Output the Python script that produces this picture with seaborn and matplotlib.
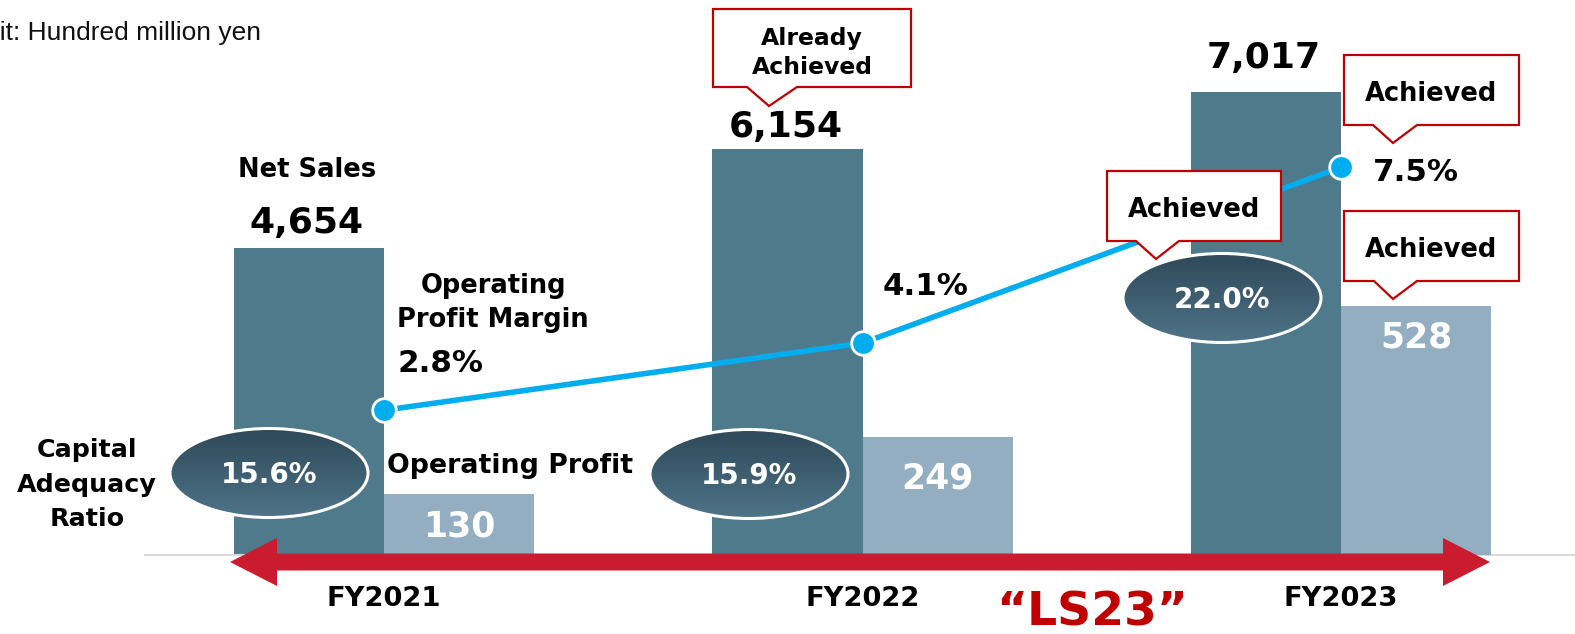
import numpy as np
import pandas as pd
import matplotlib.pyplot as plt
import seaborn as sns
from matplotlib.patches import Ellipse, Polygon

# data (unit: hundred million yen)
years = ["FY2021", "FY2022", "FY2023"]
net_sales = [4654, 6154, 7017]
op_profit = [130, 249, 528]
op_margin = [2.8, 4.1, 7.5]
cap_ratio = [15.6, 15.9, 22.0]
series_order = ["Net Sales", "Operating Profit"]

sns.set_theme(style="white")
plt.rcParams['font.family'] = ['DejaVu Sans']

dark = "#4F7A8B"
light = "#93AEC0"
cyan = "#00AEEF"
box_red = "#C00000"
arrow_red = "#CB1B2F"

W, H = 1575, 634
fig = plt.figure(figsize=(W / 100, H / 100), dpi=100)

# main axes: bottom spine = gray baseline at y=555px
base_px = 555
left_px = 145
ax = fig.add_axes([left_px / W, (H - base_px) / H, (W - left_px) / W, base_px / H])

df_sales = pd.DataFrame({"year": years, "value": net_sales, "series": "Net Sales"})
df_op = pd.DataFrame({"year": years, "value": op_profit, "series": "Operating Profit"})

bar_w = 0.627
sns.barplot(data=df_sales, x="year", y="value", hue="series", hue_order=series_order,
            palette=[dark, light], width=bar_w, saturation=1, legend=False,
            errorbar=None, dodge=True, linewidth=0, ax=ax)

ax2 = ax.twinx()
sns.barplot(data=df_op, x="year", y="value", hue="series", hue_order=series_order,
            palette=[dark, light], width=bar_w, saturation=1, legend=False,
            errorbar=None, dodge=True, linewidth=0, ax=ax2)

ax3 = ax.twinx()
sns.pointplot(x=years, y=op_margin, color=cyan, markers="o", markersize=17,
              linewidth=4, markeredgecolor="white", markeredgewidth=2,
              errorbar=None, ax=ax3)

xl = ((left_px - 384) / 478.5, (W - 384) / 478.5)
for a in (ax, ax2, ax3):
    a.set_xlim(*xl)
    a.set_ylabel("")
    a.set_xlabel("")
    a.set_yticks([])
    for s in a.spines.values():
        s.set_visible(False)
ax.set_ylim(0, base_px / 0.066)
ax2.set_ylim(0, base_px / 0.4725)
ax3.set_ylim(0, base_px / 51.7)
ax.spines["bottom"].set_visible(True)
ax.spines["bottom"].set_color("#D9D9D9")
ax.spines["bottom"].set_linewidth(1.5)
ax2.tick_params(axis="x", labelbottom=False, length=0)
ax3.tick_params(axis="x", labelbottom=False, length=0)
ax.tick_params(axis="x", length=0, pad=22)
for t in ax.get_xticklabels():
    t.set_fontsize(19.7)
    t.set_fontweight("bold")
    t.set_color("black")

# value labels anchored to bars / points
half = bar_w / 4
sales_dy = [15, 12, 24]
for i, v in enumerate(net_sales):
    ax.annotate(f"{v:,}", (i - half, v), xytext=(-2, sales_dy[i]), textcoords="offset pixels",
                ha="center", va="baseline", fontsize=26, fontweight="bold", color="black")
op_dy = [-43, -51, -42]
for i, v in enumerate(op_profit):
    ax2.annotate(f"{v}", (i + half, v), xytext=(0, op_dy[i]), textcoords="offset pixels",
                 ha="center", va="baseline", fontsize=25, fontweight="bold", color="white")
margin_off = [(14, 38, "left"), (63, 48, "center"), (32, -14, "left")]
for i, v in enumerate(op_margin):
    dx, dy, ha = margin_off[i]
    ax3.annotate(f"{v}%", (i, v), xytext=(dx, dy), textcoords="offset pixels",
                 ha=ha, va="baseline", fontsize=22.3, fontweight="bold", color="black")

# overlay in pixel coordinates for decorations
ov = fig.add_axes([0, 0, 1, 1], zorder=5)
ov.set_xlim(0, W)
ov.set_ylim(H, 0)
ov.axis("off")

# capital adequacy ratio ellipses with gradient
ell_pos = [(269, 473), (749, 474), (1222, 298)]
ew, eh = 198, 89
top_c = np.array([46, 72, 88]) / 255
bot_c = np.array([78, 116, 136]) / 255
grad = np.linspace(0, 1, 100)[:, None, None]
grad_img = top_c * (1 - grad) + bot_c * grad
for (cx, cy), v in zip(ell_pos, cap_ratio):
    e = Ellipse((cx, cy), ew, eh, facecolor="none", edgecolor="white", lw=2.2, zorder=3)
    ov.add_patch(e)
    im = ov.imshow(grad_img, extent=(cx - ew / 2, cx + ew / 2, cy + eh / 2, cy - eh / 2),
                   aspect="auto", zorder=2)
    im.set_clip_path(e)
    ov.text(cx, cy + 10, f"{v:.1f}%", ha="center", va="baseline", fontsize=20,
            fontweight="bold", color="white", zorder=4)
ov.set_xlim(0, W)
ov.set_ylim(H, 0)

# red double-headed arrow
arrow = [(230, 562), (277, 538), (277, 553.5), (1443, 553.5), (1443, 538), (1490, 562),
         (1443, 586), (1443, 570.5), (277, 570.5), (277, 586)]
ov.add_patch(Polygon(arrow, closed=True, facecolor=arrow_red, edgecolor="none", zorder=2))


# callouts
def callout(x0, y0, x1, y1, bx0, bx1, tx, ty):
    pts = [(x0, y0), (x1, y0), (x1, y1), (bx1, y1), (tx, ty), (bx0, y1), (x0, y1)]
    ov.add_patch(Polygon(pts, closed=True, facecolor="white", edgecolor=box_red,
                         lw=1.6, joinstyle="miter", zorder=3))


callout(713, 9, 911, 87, 747, 797, 769, 106)
callout(1107, 171, 1281, 241, 1136, 1179, 1156, 259)
callout(1344, 55, 1519, 125, 1373, 1417, 1393, 143)
callout(1344, 211, 1519, 281, 1374, 1417, 1393, 299)

bold = dict(fontweight="bold", color="black", zorder=4)
ov.text(812, 45, "Already", ha="center", va="baseline", fontsize=16.9, **bold)
ov.text(812, 74, "Achieved", ha="center", va="baseline", fontsize=16.9, **bold)
ov.text(1194, 217, "Achieved", ha="center", va="baseline", fontsize=18.5, **bold)
ov.text(1431, 101, "Achieved", ha="center", va="baseline", fontsize=18.5, **bold)
ov.text(1431, 257, "Achieved", ha="center", va="baseline", fontsize=18.5, **bold)

# series labels
ov.text(307, 177, "Net Sales", ha="center", va="baseline", fontsize=18.5, **bold)
ov.text(493, 293, "Operating", ha="center", va="baseline", fontsize=18.5, **bold)
ov.text(493, 327, "Profit Margin", ha="center", va="baseline", fontsize=18.5, **bold)
ov.text(387, 473, "Operating Profit", ha="left", va="baseline", fontsize=19.3, **bold)
for yb, s in zip([457, 492, 526], ["Capital", "Adequacy", "Ratio"]):
    ov.text(87, yb, s, ha="center", va="baseline", fontsize=18.3, **bold)

ov.text(1092, 626, "\u201cLS23\u201d", ha="center", va="baseline", fontsize=34,
        fontweight="bold", color=box_red, zorder=4)

ov.text(-34, 40, "Unit: Hundred million yen", ha="left", va="baseline", fontsize=19,
        family="Liberation Sans", color="#111111")

plt.savefig("out.png", dpi=100)
